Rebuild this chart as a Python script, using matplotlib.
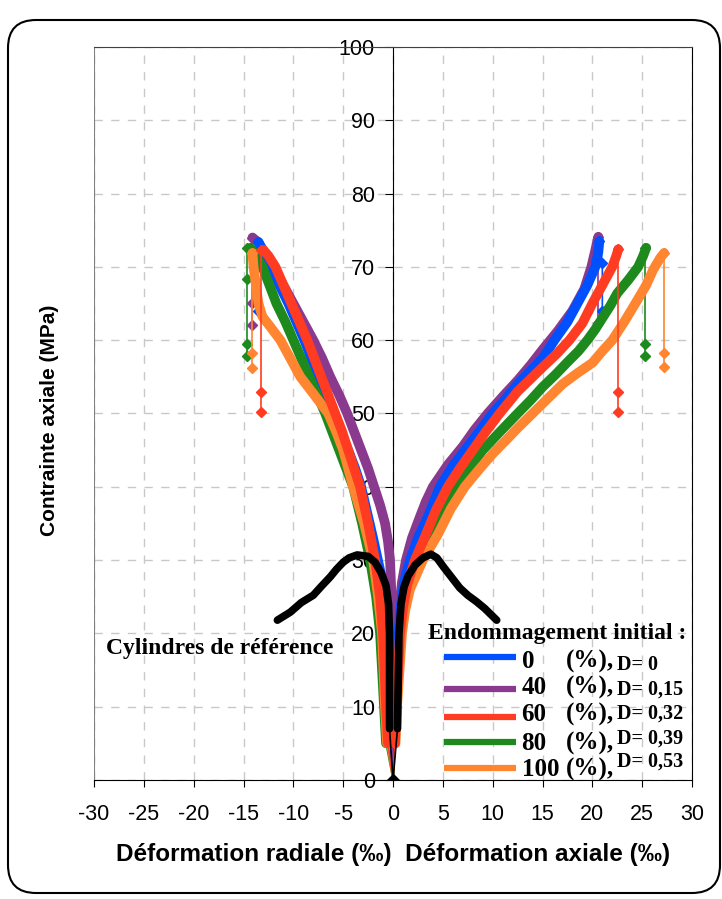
import numpy as np
import matplotlib.pyplot as plt
from matplotlib.patches import FancyBboxPatch
from matplotlib.transforms import IdentityTransform

plt.rcParams['axes.unicode_minus'] = False

# ---- données ----
labels = ['0', '40', '60', '80', '100']
d_values = ['0', '0,15', '0,32', '0,39', '0,53']
colors = ['#0050ff', '#8a3a8e', '#ff3c22', '#1e8a1e', '#ff8530']

# déformation axiale (positive)
ax_x = {
    '0':   [0, 0.15, 0.25, 0.4, 0.55, 0.8, 1.1, 1.7, 2.5, 3.5, 4.7, 6.0, 7.5, 8.8, 10, 11.3,
            12.5, 13.8, 15, 16.2, 17.5, 18.5, 19.5, 20.3, 20.6, 20.7],
    '40':  [0, 0.1, 0.2, 0.3, 0.45, 0.65, 0.9, 1.3, 1.9, 2.7, 3.3, 4.0, 5.5, 7.0, 8.2, 9.5,
            11, 12.5, 13.8, 15, 16.5, 18, 19.2, 19.9, 20.3, 20.6],
    '60':  [0, 0.2, 0.3, 0.5, 0.7, 1.0, 1.4, 2.2, 3.3, 4.3, 5.5, 6.7, 8, 9.3, 10.7, 12.5,
            13.8, 15, 16.4, 17.7, 19, 20, 21, 22, 22.4, 22.6],
    '80':  [0, 0.2, 0.35, 0.55, 0.8, 1.1, 1.5, 2.6, 4.0, 5.2, 6.4, 7.7, 9, 10.8, 12.5, 13.8,
            15, 16.3, 17.5, 18.6, 19.5, 20.3, 21, 21.8, 22.5, 23.6, 24.6, 25.1, 25.4],
    '100': [0, 0.25, 0.4, 0.65, 0.9, 1.2, 1.7, 3.0, 4.5, 5.8, 7.2, 8.6, 10, 11.3, 12.5, 14,
            15.5, 17, 18.5, 20, 21, 22, 23.2, 24.4, 25.4, 26.1, 26.8, 27.2],
}
ax_y = {
    '0':   [0, 5, 10, 15, 20, 24, 27, 30, 33, 35.9, 40, 42.8, 45.5, 47.8, 50, 52,
            54, 55.8, 57.5, 60, 62.5, 65, 67.5, 70, 72, 73.5],
    '40':  [0, 5, 10, 15, 20, 24, 27, 30, 33, 35.9, 38, 40, 43, 45.5, 47.8, 50,
            52.3, 54.5, 56.6, 58.7, 61.2, 64, 67, 70, 72.3, 74.1],
    '60':  [0, 5, 10, 15, 20, 23.5, 26.5, 30, 33.5, 36.8, 40, 42.5, 45, 47.5, 50, 53,
            54.7, 56.3, 58.1, 60, 62.3, 65, 67.5, 70, 71.5, 72.4],
    '80':  [0, 5, 10, 15, 20, 23, 26, 30, 34, 37.2, 40, 42.6, 45, 47.6, 50, 51.8,
            53.6, 55.3, 57, 58.5, 60, 61.5, 63, 64.7, 66.4, 68.2, 70, 71.5, 72.6],
    '100': [0, 5, 10, 15, 20, 23, 26, 30, 33.5, 37, 40, 42.3, 44.5, 46.3, 48, 50,
            52, 54, 55.5, 56.9, 58.5, 60, 62.5, 65.2, 67.5, 69.6, 71.2, 71.9],
}
# déformation radiale (négative)
rad_x = {
    '0':   [0, -0.3, -0.45, -0.6, -0.9, -1.2, -1.6, -2.0, -2.6, -3.2, -3.8, -4.5, -5.3, -6.1,
            -6.8, -7.5, -8.2, -8.9, -9.7, -10.5, -11.4, -12.2, -13.0, -13.5],
    '40':  [0, -0.05, -0.08, -0.1, -0.15, -0.3, -0.5, -0.8, -1.3, -1.9, -2.5, -3.2, -3.9,
            -4.6, -5.4, -6.3, -7.1, -8.0, -9.0, -10.0, -11.0, -12.0, -12.9, -13.5, -14.1],
    '60':  [0, -0.5, -0.7, -0.85, -1.0, -1.3, -1.8, -2.5, -3.3, -3.9, -4.5, -5.1, -5.8,
            -6.5, -7.2, -7.9, -8.6, -9.4, -10.2, -11.0, -11.8, -12.5, -13.0],
    '80':  [0, -0.7, -0.9, -1.1, -1.3, -1.7, -2.3, -3.1, -4.0, -4.7, -5.4, -6.1, -6.8,
            -7.6, -8.4, -9.2, -10.0, -10.8, -11.7, -12.4, -13.1, -13.8, -14.3],
    '100': [0, -0.6, -0.8, -0.95, -1.1, -1.5, -2.0, -2.9, -4.0, -4.5, -5.0, -5.7, -6.5,
            -8.0, -9.3, -10.3, -11.3, -12.3, -13.1, -13.5, -13.8, -14.0, -14.1],
}
rad_y = {
    '0':   [0, 5, 10, 20, 25, 28, 30.5, 33, 36.5, 40, 42.5, 45, 47.5, 50,
            52.5, 55, 57.5, 60, 62.5, 65, 67.5, 70, 72, 73.4],
    '40':  [0, 5, 10, 20, 25, 30, 32.5, 35, 37.5, 40, 42.5, 45, 47.5,
            50, 52.5, 55, 57.5, 60, 62.5, 65, 67.5, 70, 72, 73.3, 74],
    '60':  [0, 5, 10, 15, 20, 25, 30, 35, 40, 42.5, 45, 47.5, 50,
            52.5, 55, 57.5, 60, 62.5, 65, 67.5, 70, 71.5, 72.3],
    '80':  [0, 5, 10, 15, 20, 25, 30, 35, 40, 42.5, 45, 47.5, 50,
            52.5, 55, 57.5, 60, 62.5, 65, 67.5, 70, 71.6, 72.6],
    '100': [0, 5, 10, 15, 20, 25, 30, 35, 40, 42.5, 45, 47.5, 50,
            52.7, 55, 57.5, 60, 61.8, 63.2, 65, 68, 70, 71.9],
}
# chute après rupture
drop_ax = {
    '0':   ([20.7, 21.0, 21.0], [73.5, 70.5, 64.0]),
    '40':  ([20.6, 20.6], [74.1, 62.3]),
    '60':  ([22.6, 22.6, 22.6], [72.4, 52.9, 50.2]),
    '80':  ([25.3, 25.3, 25.3], [72.6, 59.5, 57.9]),
    '100': ([27.2, 27.2, 27.2], [71.9, 58.3, 56.3]),
}
drop_rad = {
    '0':   ([-13.5, -13.5], [73.4, 64.0]),
    '40':  ([-14.1, -14.1, -14.1], [74.0, 65.1, 62.1]),
    '60':  ([-13.2, -13.2, -13.2], [72.3, 52.9, 50.2]),
    '80':  ([-14.6, -14.6, -14.6, -14.6], [72.6, 68.3, 59.5, 57.8]),
    '100': ([-14.1, -14.1, -14.1], [71.9, 58.2, 56.2]),
}
# cylindres de référence
ref_ax_x = [0, 0.45, 0.5, 0.6, 0.8, 1.1, 1.5, 2.2, 3.0, 3.8, 4.4, 5.1, 5.9, 6.7, 7.5,
            8.4, 9.2, 10.4]
ref_ax_y = [0, 7, 12, 20, 24, 26.3, 27.8, 29.3, 30.3, 30.8, 30.3, 29.0, 27.6, 26.2, 25.2,
            24.3, 23.4, 21.8]
ref_rad_x = [0, -0.35, -0.35, -0.35, -0.45, -0.7, -1.2, -1.8, -2.5, -3.6, -4.4, -5.0,
             -5.7, -6.3, -7.2, -8.0, -9.2, -10.3, -11.6]
ref_rad_y = [0, 7, 12, 20, 24, 26.5, 28.3, 29.7, 30.5, 30.7, 30.3, 29.7,
             28.7, 27.7, 26.4, 25.2, 24.2, 22.9, 21.8]

fig = plt.figure(figsize=(7.22, 8.99), dpi=100)
ax = fig.add_axes([0.1302, 0.1324, 0.8283, 0.8154])

serif = ['Liberation Serif', 'DejaVu Serif']
sans = ['Liberation Sans', 'DejaVu Sans']


def courbe(x, y, c, lw, z):
    # premier segment fin, puis la partie dense (épaisse)
    ax.plot(x[:2], y[:2], color=c, lw=1.2, zorder=z)
    ax.plot(x[1:], y[1:], color=c, lw=lw, solid_capstyle='round',
            solid_joinstyle='round', zorder=z)


order = ['40', '0', '80', '100', '60']
for i, lab in enumerate(order):
    c = colors[labels.index(lab)]
    z = 3 + i
    courbe(ax_x[lab], ax_y[lab], c, 7, z)
    courbe(rad_x[lab], rad_y[lab], c, 7, z)
    for dx, dy in (drop_ax[lab], drop_rad[lab]):
        ax.plot(dx, dy, color=c, lw=1.2, marker='D', ms=5, zorder=z)

courbe(ref_ax_x, ref_ax_y, 'black', 5.5, 10)
courbe(ref_rad_x, ref_rad_y, 'black', 5.5, 10)
ax.plot([0], [0], marker='D', color='black', ms=6, zorder=11)

ax.set_xlim(-30, 30)
ax.set_ylim(0, 100)
ax.set_xticks(np.arange(-30, 31, 5))
ax.set_yticks(np.arange(0, 101, 10))
ax.grid(True, ls=(0, (6, 6)), color='#c8c8c8', lw=1)
ax.set_axisbelow(True)

ax.spines['left'].set_position(('data', 0))
ax.spines['left'].set_color('black')
ax.spines['top'].set_color('#404040')
ax.spines['right'].set_color('black')
ax.axvline(-30, color='#808080', lw=1.5, zorder=2)
ax.tick_params(axis='y', direction='out', length=6, pad=7, labelsize=15.5)
ax.tick_params(axis='x', direction='out', length=5, pad=12, labelsize=15.5)
for t in ax.get_yticklabels() + ax.get_xticklabels():
    t.set_fontfamily(sans)

ax.set_xlabel('Déformation radiale (‰)  Déformation axiale (‰)',
              fontsize=17.5, fontweight='bold', family=sans, labelpad=13)
fig.text(0.069, 0.533, 'Contrainte axiale (MPa)', rotation=90, fontsize=15,
         fontweight='bold', family=sans, ha='center', va='center')

ax.text(-28.8, 18.0, 'Cylindres de référence', fontsize=17, fontweight='bold',
        family=serif, va='center', ha='left', zorder=12)
ax.text(3.5, 20.0, 'Endommagement initial :', fontsize=17, fontweight='bold',
        family=serif, va='center', ha='left', zorder=12)

line_y = [16.8, 12.4, 8.6, 5.2, 1.6]
num_y = [16.1, 12.6, 8.9, 5.0, 1.4]
d_y = [15.7, 12.3, 9.1, 5.7, 2.5]
for i, lab in enumerate(labels):
    ax.plot([5.1, 12.3], [line_y[i]] * 2, color=colors[i], lw=4.5, zorder=12,
            solid_capstyle='butt')
    ax.text(12.9, num_y[i], lab, fontsize=18, fontweight='bold', family=serif,
            va='center', ha='left', zorder=12)
    ax.text(17.3, num_y[i], '(%),', fontsize=18, fontweight='bold', family=serif,
            va='center', ha='left', zorder=12)
    ax.text(22.5, d_y[i], 'D= ' + d_values[i], fontsize=14.5, fontweight='bold',
            family=serif, va='center', ha='left', zorder=12)

fig.patches.append(FancyBboxPatch((8, 6), 712, 873,
                                  boxstyle='round,pad=0,rounding_size=28',
                                  transform=IdentityTransform(),
                                  fill=False, ec='black', lw=1.5))

fig.savefig('out.png', dpi=100)
